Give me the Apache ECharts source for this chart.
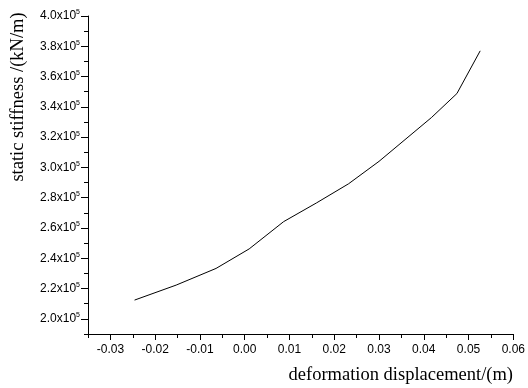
<!DOCTYPE html>
<html>
<head>
<meta charset="utf-8">
<script src="https://cdn.jsdelivr.net/npm/echarts@6/dist/echarts.min.js"></script>
<style>
  html, body { margin: 0; padding: 0; background: #fff; }
  #main { width: 528px; height: 388px; }
</style>
</head>
<body>
<div id="main"></div>
<script>
// deformation displacement (m) vs static stiffness (kN/m)
var dispX = [-0.0246, -0.0153, -0.0064, 0.0010, 0.0087, 0.0160, 0.0232, 0.0300, 0.0417, 0.0474, 0.0526];
var stiffY = [212400, 222300, 233300, 246200, 264200, 276500, 289200, 304000, 332900, 348800, 377000];

var xMajorTicks = [-0.03, -0.02, -0.01, 0.00, 0.01, 0.02, 0.03, 0.04, 0.05, 0.06];
var xMinorTicks = [-0.035, -0.025, -0.015, -0.005, 0.005, 0.015, 0.025, 0.035, 0.045, 0.055];
var yMajorTicks = [200000, 220000, 240000, 260000, 280000, 300000, 320000, 340000, 360000, 380000, 400000];
var yMinorTicks = [190000, 210000, 230000, 250000, 270000, 290000, 310000, 330000, 350000, 370000, 390000];

var chart = echarts.init(document.getElementById('main'), null, { renderer: 'canvas' });

var lineStyle = { color: '#000', width: 1 };
var labelFont = 'Liberation Sans, Arial, sans-serif';
var titleFont = 'Liberation Serif, Times New Roman, serif';

var option = {
  backgroundColor: '#fff',
  animation: false,
  grid: { left: 88, right: 12, top: 16, bottom: 54 },
  xAxis: [{
    type: 'value',
    min: -0.035,
    max: 0.06,
    axisLine: { show: true, onZero: false, lineStyle: lineStyle },
    axisTick: { show: true, inside: false, length: 6, lineStyle: lineStyle, customValues: xMajorTicks },
    axisLabel: {
      show: true,
      margin: 10,
      color: '#000',
      fontSize: 12,
      fontFamily: labelFont,
      customValues: xMajorTicks,
      formatter: function (v) { return v.toFixed(2); }
    },
    splitLine: { show: false }
  }, {
    type: 'value',
    position: 'bottom',
    min: -0.035,
    max: 0.06,
    axisLine: { show: false, onZero: false },
    axisTick: { show: true, inside: false, length: 4, lineStyle: lineStyle, customValues: xMinorTicks },
    axisLabel: { show: false },
    splitLine: { show: false }
  }],
  yAxis: [{
    type: 'value',
    min: 190000,
    max: 400000,
    axisLine: { show: true, onZero: false, lineStyle: lineStyle },
    axisTick: { show: true, inside: false, length: 7, lineStyle: lineStyle, customValues: yMajorTicks },
    axisLabel: {
      show: true,
      margin: 8,
      color: '#000',
      fontFamily: labelFont,
      customValues: yMajorTicks,
      formatter: function (v) {
        return '{a|' + (v / 100000).toFixed(1) + 'x10}{s|5}';
      },
      rich: {
        a: { fontSize: 12, fontFamily: labelFont, color: '#000', lineHeight: 14 },
        s: { fontSize: 7, fontFamily: labelFont, color: '#000', verticalAlign: 'top', lineHeight: 14, padding: [0, 0, 5, 0] }
      }
    },
    splitLine: { show: false }
  }, {
    type: 'value',
    position: 'left',
    min: 190000,
    max: 400000,
    axisLine: { show: false, onZero: false },
    axisTick: { show: true, inside: false, length: 4, lineStyle: lineStyle, customValues: yMinorTicks },
    axisLabel: { show: false },
    splitLine: { show: false }
  }],
  graphic: [{
    type: 'text',
    x: 18,
    y: 97,
    rotation: Math.PI / 2,
    style: {
      text: 'static stiffness /(kN/m)',
      fill: '#000',
      font: '18.5px ' + titleFont,
      textAlign: 'center',
      textVerticalAlign: 'middle'
    }
  }, {
    type: 'text',
    x: 513,
    y: 375,
    style: {
      text: 'deformation displacement/(m)',
      fill: '#000',
      font: '18.5px ' + titleFont,
      textAlign: 'right',
      textVerticalAlign: 'middle'
    }
  }],
  series: [{
    type: 'line',
    xAxisIndex: 0,
    yAxisIndex: 0,
    data: dispX.map(function (x, i) { return [x, stiffY[i]]; }),
    showSymbol: false,
    symbol: 'none',
    lineStyle: { color: '#000', width: 1 }
  }]
};

chart.setOption(option);
</script>
</body>
</html>
